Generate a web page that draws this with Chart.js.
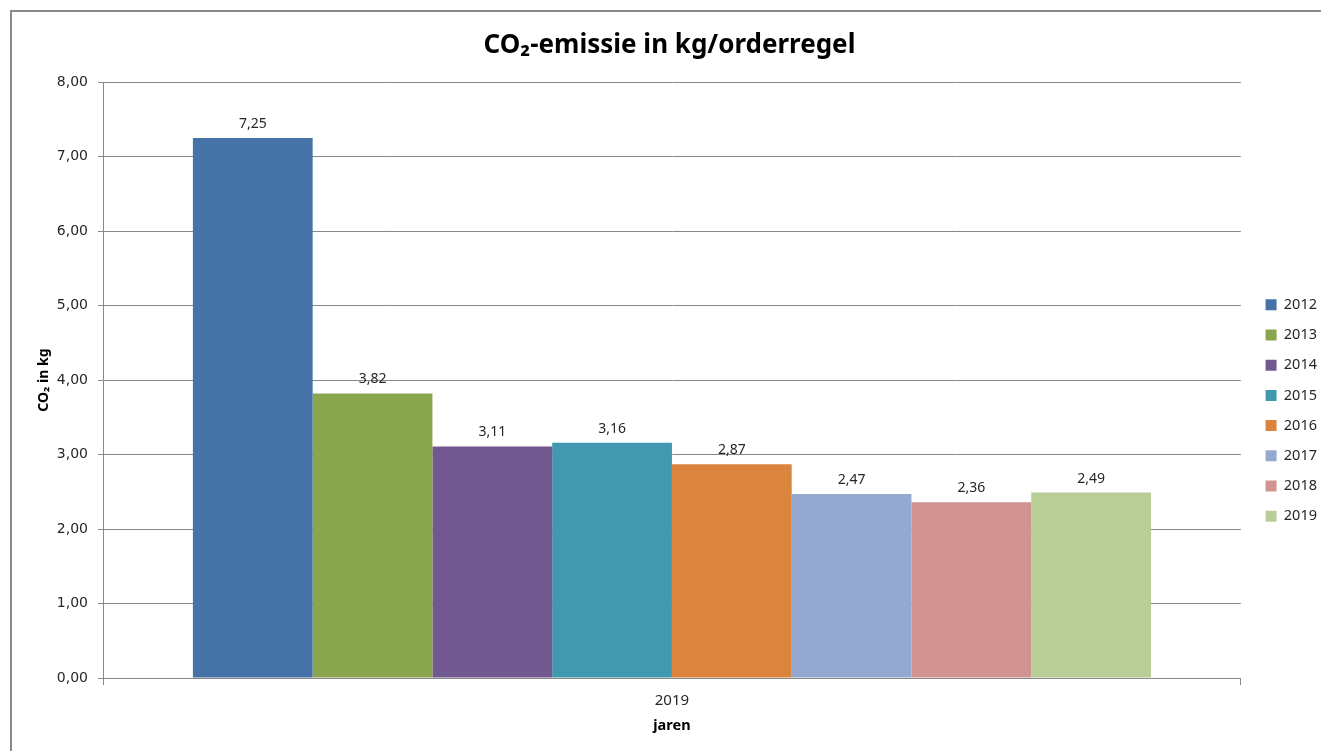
<!DOCTYPE html>
<html>
<head>
<meta charset="utf-8">
<script src="https://cdn.jsdelivr.net/npm/chart.js@4/dist/chart.umd.min.js"></script>
<style>
  html, body { margin: 0; padding: 0; background: #fff; overflow: hidden; width: 1321px; height: 751px; }
  #frame { position: absolute; left: 10px; top: 10px; width: 1330px; height: 800px; border: 2px solid #8a8a8a; }
  #chart { position: absolute; left: 12px; top: 12px; }
</style>
</head>
<body>
<div id="frame"></div>
<canvas id="chart" width="1318" height="797"></canvas>
<script>
// data
const categories = ["2019"];
const years = ["2012", "2013", "2014", "2015", "2016", "2017", "2018", "2019"];
const values = [7.25, 3.82, 3.11, 3.16, 2.87, 2.47, 2.36, 2.49];
const colors = ["#4572A7", "#89A54E", "#71588F", "#4198AF", "#DB843D", "#93A9CF", "#D19392", "#B9CD96"];
const yTicks = [0, 1, 2, 3, 4, 5, 6, 7, 8];

const grey = "#878787";

function fmt(v) {
    return v.toFixed(2).replace(".", ",");
}

// value labels above each bar
const barLabels = {
    id: "barLabels",
    afterDatasetsDraw(chart) {
        const ctx = chart.ctx;
        ctx.save();
        ctx.font = "14px 'Noto Sans'";
        ctx.fillStyle = "#262626";
        ctx.textAlign = "center";
        ctx.textBaseline = "bottom";
        chart.data.datasets.forEach((ds, i) => {
            chart.getDatasetMeta(i).data.forEach((bar, j) => {
                ctx.fillText(fmt(ds.data[j]), bar.x, bar.y - 7);
            });
        });
        ctx.restore();
    }
};

const datasets = years.map((y, i) => ({
    label: y,
    data: [values[i]],
    backgroundColor: colors[i],
    borderWidth: 0
}));

new Chart(document.getElementById("chart"), {
    type: "bar",
    data: { labels: categories, datasets: datasets },
    plugins: [barLabels],
    options: {
        responsive: false,
        animation: false,
        layout: { padding: { left: 0, right: 3, top: 0, bottom: 0 } },
        datasets: { bar: { categoryPercentage: 0.842, barPercentage: 1 } },
        plugins: {
            tooltip: { enabled: false },
            title: {
                display: true,
                text: "CO₂-emissie in kg/orderregel",
                color: "#000",
                font: { family: "'Noto Sans'", size: 26, weight: "bold" },
                padding: { top: 18, bottom: 21 }
            },
            legend: {
                position: "right",
                labels: {
                    boxWidth: 11,
                    boxHeight: 11,
                    padding: 15.7,
                    color: "#262626",
                    font: { family: "'Noto Sans'", size: 14.5 }
                }
            }
        },
        scales: {
            x: {
                grid: { drawOnChartArea: false, drawTicks: true, tickLength: 7, color: grey },
                border: { color: grey, width: 1 },
                ticks: { color: "#262626", padding: 7, font: { family: "'Noto Sans'", size: 15 } },
                title: {
                    display: true,
                    text: "jaren",
                    color: "#000",
                    font: { family: "'Noto Sans'", size: 14.5, weight: "bold" },
                    padding: { top: 0, bottom: 74 }
                },
                afterFit(s) { s.height = 131; }
            },
            y: {
                min: 0,
                max: 8,
                afterBuildTicks(s) { s.ticks = yTicks.map(v => ({ value: v })); },
                grid: { color: grey, tickLength: 5 },
                border: { color: grey, width: 1 },
                ticks: {
                    color: "#262626",
                    padding: 10,
                    font: { family: "'DejaVu Sans'", size: 14 },
                    callback: v => fmt(v)
                },
                title: {
                    display: true,
                    text: "CO₂ in kg",
                    color: "#000",
                    font: { family: "'Noto Sans'", size: 14, weight: "bold" },
                    padding: { top: 24, bottom: 0 }
                },
                afterFit(s) { s.width = 91; }
            },
            yRight: {
                position: "right",
                display: true,
                grid: { display: false },
                border: { display: false },
                ticks: { display: false },
                afterFit(s) { s.width = 9; }
            }
        }
    }
});
</script>
</body>
</html>
